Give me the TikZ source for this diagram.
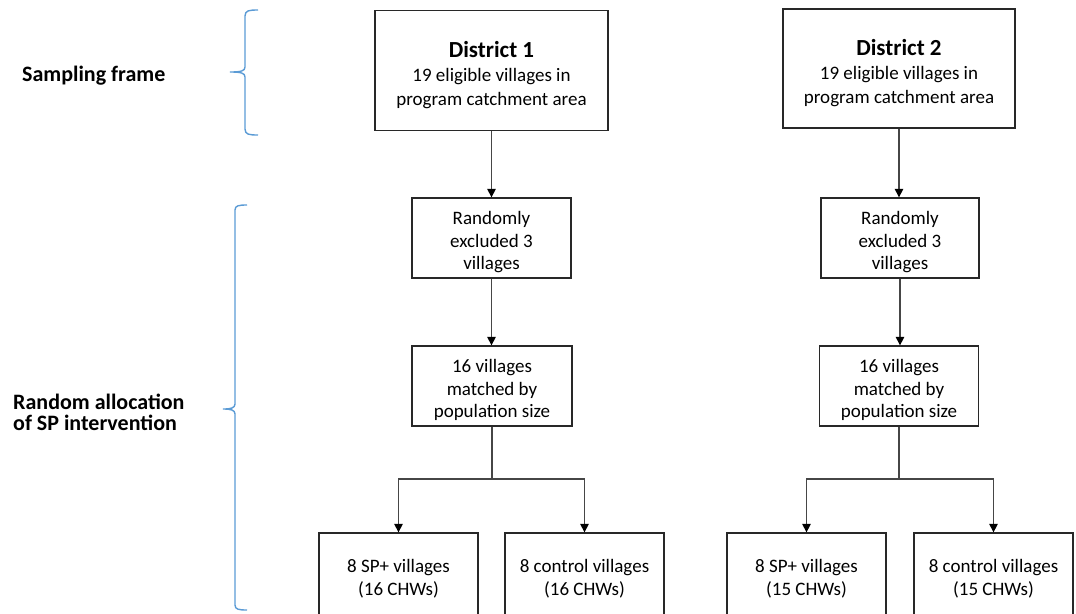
\documentclass[tikz,border=0pt]{standalone}
\usepackage{fontspec}
\setmainfont{Carlito}
\usetikzlibrary{arrows.meta}
\definecolor{bracec}{RGB}{91,155,213}
\definecolor{boxc}{RGB}{40,40,40}
\definecolor{linec}{RGB}{70,70,70}
\newcommand{\tstrut}[1]{\rule{0pt}{#1}}
\begin{document}
\begin{tikzpicture}[x=1pt,y=-1pt,
  box/.style={draw=boxc, line width=1.3pt, align=center, inner sep=0pt, text=black,
    font=\fontsize{19}{22.5}\selectfont},
  conn/.style={draw=linec, line width=1.2pt},
  arr/.style={conn, -{Triangle[width=8.5pt,length=8.5pt,color=black]}},
  brace/.style={draw=bracec, line width=1.4pt},
  lab/.style={anchor=west, align=left, inner sep=0pt, font=\fontsize{22}{21}\selectfont\bfseries}]
\clip (0,0) rectangle (1076,613);
% district 1
\node[box, minimum width=233pt, minimum height=120pt, font=\fontsize{19}{24}\selectfont] (d1) at (491.5,70.5)
  {{\fontsize{23}{24}\selectfont\bfseries\tstrut{25pt}District 1}\\19 eligible villages in\\program catchment area};
\node[box, minimum width=159pt, minimum height=80pt] (r1) at (491.5,238) {\tstrut{22pt}Randomly\\excluded 3\\villages};
\node[box, minimum width=160pt, minimum height=80pt] (m1) at (492,386) {\tstrut{22pt}16 villages\\matched by\\population size};
\node[box, minimum width=159pt, minimum height=87pt] (s1) at (398.5,576.5) {\tstrut{18pt}8 SP+ villages\\(16 CHWs)};
\node[box, minimum width=159pt, minimum height=87pt] (c1) at (584.5,576.5) {\tstrut{18pt}8 control villages\\(16 CHWs)};
% district 2
\node[box, minimum width=232pt, minimum height=119pt, font=\fontsize{19}{24}\selectfont] (d2) at (899,68.5)
  {{\fontsize{23}{24}\selectfont\bfseries\tstrut{25pt}District 2}\\19 eligible villages in\\program catchment area};
\node[box, minimum width=158pt, minimum height=80pt] (r2) at (900,238) {\tstrut{22pt}Randomly\\excluded 3\\villages};
\node[box, minimum width=159pt, minimum height=80pt] (m2) at (899,386) {\tstrut{22pt}16 villages\\matched by\\population size};
\node[box, minimum width=159pt, minimum height=87pt] (s2) at (806.5,576.5) {\tstrut{18pt}8 SP+ villages\\(15 CHWs)};
\node[box, minimum width=159pt, minimum height=87pt] (c2) at (993.5,576.5) {\tstrut{18pt}8 control villages\\(15 CHWs)};
% labels
\node[lab] (sf) at (22,76) {Sampling frame};
\node[lab] (ra) at (13,412) {Random allocation\\of SP intervention};
% connectors
\draw[arr] (d1.south) -- (d1.south |- r1.north);
\draw[arr] (r1.south) -- (r1.south |- m1.north);
\coordinate (j1) at (492,479);
\draw[conn] (m1.south) -- (j1);
\draw[arr] (j1) -| (s1.north);
\draw[arr] (j1) -| (c1.north);
\draw[arr] (d2.south) -- (d2.south |- r2.north);
\draw[arr] (r2.south) -- (r2.south |- m2.north);
\coordinate (j2) at (899,479);
\draw[conn] (m2.south) -- (j2);
\draw[arr] (j2) -| (s2.north);
\draw[arr] (j2) -| (c2.north);
% braces
\draw[brace] (258,10) .. controls (249,10) and (245,10.5) .. (245,16) -- (245,67)
  .. controls (245,71) and (241,72) .. (230,72)
  .. controls (241,72) and (245,73) .. (245,77) -- (245,129)
  .. controls (245,134.5) and (249,135) .. (258,135);
\draw[brace] (247,205) .. controls (239,205) and (235,205.5) .. (235,210) -- (235,404)
  .. controls (235,408) and (231,409) .. (223,409)
  .. controls (231,409) and (235,410) .. (235,414) -- (235,605)
  .. controls (235,609.5) and (239,610) .. (247,610);
\end{tikzpicture}
\end{document}
